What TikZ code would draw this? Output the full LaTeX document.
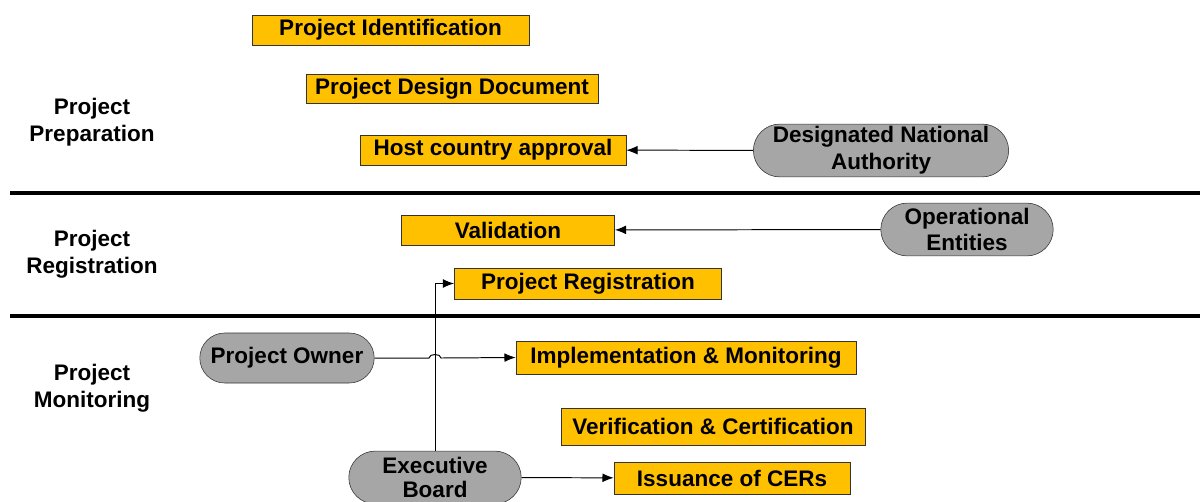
\documentclass[tikz,border=0pt]{standalone}
\usepackage{fontspec}
\setmainfont{Liberation Sans}
\usepackage{tikz}
\usetikzlibrary{arrows.meta,shapes.misc,positioning,calc}
\definecolor{stepgold}{HTML}{FFC000}
\definecolor{actorgray}{HTML}{A6A6A6}

\begin{document}
\begin{tikzpicture}[x=0.025cm, y=-0.025cm,
    stepbox/.style={draw=black!80, fill=stepgold, minimum height=0.75cm, inner sep=1pt, font=\bfseries\fontsize{16}{19}\selectfont},
    actor/.style={draw=black!80, fill=actorgray, rounded rectangle, minimum height=1.32cm, align=center, inner sep=1pt, font=\bfseries\fontsize{16}{19}\selectfont},
    phase/.style={align=center, font=\bfseries\fontsize{16}{19}\selectfont},
    link/.style={-{Latex[length=2.8mm,width=2.2mm]}, black, line width=0.7pt}]
    \useasboundingbox (0,0) rectangle (1200,501);

    % Phase labels on the left
    \node[phase] (prep) at (92,122) {Project\\Preparation};
    \node[phase] (regi) at (92,254) {Project\\Registration};
    \node[phase] (moni) at (92,388) {Project\\Monitoring};

    % Separators
    \coordinate (sepA) at (10,193);
    \coordinate (sepB) at (10,316);
    \draw[line width=2.2pt] (sepA) -- ++(1190,0);
    \draw[line width=2.2pt] (sepB) -- ++(1190,0);

    % Project steps
    \node[stepbox, minimum width=6.93cm] (ident) at (390.5,30) {Project Identification};
    \node[stepbox, minimum width=7.3cm, minimum height=0.73cm] (pdd) at (452,88.5) {Project Design Document};
    \node[stepbox, minimum width=6.65cm] (host) at (493,150) {Host country approval};
    \node[stepbox, minimum width=5.33cm] (valid) at (508,230) {Validation};
    \node[stepbox, minimum width=6.68cm, minimum height=0.78cm] (reg) at (588,283.5) {Project Registration};
    \node[stepbox, minimum width=8.5cm, minimum height=0.83cm] (impl) at (686,357.5) {Implementation \& Monitoring};
    \node[stepbox, minimum width=7.6cm, minimum height=0.93cm] (verif) at (713,426.5) {Verification \& Certification};
    \node[stepbox, minimum width=5.9cm, minimum height=0.8cm] (cers) at (732,478) {Issuance of CERs};

    % Actors
    \node[actor, minimum width=6.45cm] (dna) at (881,150.5) {Designated National\\Authority};
    \node[actor, minimum width=4.38cm] (oper) at (967,229.5) {Operational\\Entities};
    \node[actor, minimum width=4.43cm, minimum height=1.25cm] (owner) at (287,358) {Project Owner};
    \node[actor, minimum width=4.38cm, font=\bfseries\fontsize{16}{17.5}\selectfont] (board) at (435,477.5) {Executive\\Board};

    % Connections
    \draw[link] (dna) -- (host);
    \draw[link] (oper) -- (valid);
    \draw[link] (board.north) |- (reg.west);
    \draw[link] (board) -- (cers);

    % Owner line jumps over the board line
    \coordinate (jump) at (board.north |- owner.east);
    \coordinate (jumpL) at ($(jump)+(-6,0)$);
    \coordinate (jumpR) at ($(jump)+(6,0)$);
    \draw[link] (owner.east) -- (jumpL) to[out=90,in=90] (jumpR) -- (impl.west);
\end{tikzpicture}
\end{document}
